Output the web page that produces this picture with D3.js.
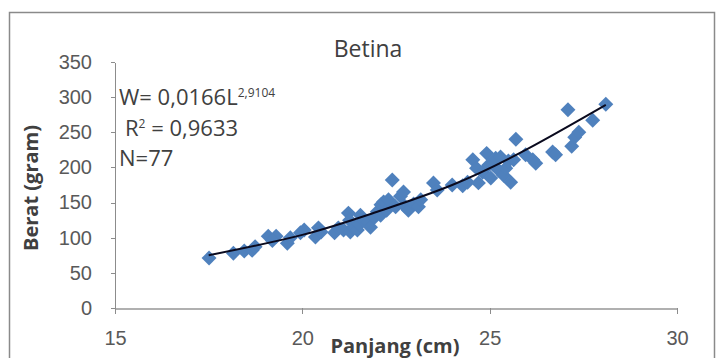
<!DOCTYPE html>
<meta charset="utf-8">
<style>
body {
  margin: 0;
  background: #fff;
}

svg {
  font-family: "Open Sans", sans-serif;
  display: block;
}

.axis path,
.axis line {
  stroke: #8c8c8c;
  shape-rendering: crispEdges;
}

.x.axis path {
  stroke: #b0b0b0;
  stroke-width: 2;
}

.axis text {
  font-size: 20px;
  fill: #595959;
}

.frame {
  fill: #fff;
  stroke: #8a8a8a;
  stroke-width: 1.5;
}

.point {
  fill: #4f81bd;
}

.trend {
  fill: none;
  stroke: #0a0a1e;
  stroke-width: 2;
}

.label {
  font-size: 20px;
  font-weight: bold;
  fill: #404040;
}

.note {
  font-size: 22px;
  fill: #404040;
}
</style>
<body>
<div id="chart"></div>
<script src="https://cdn.jsdelivr.net/npm/d3@7"></script>
<script>

// panjang (cm) and berat (gram) for each fish
var panjang = [17.51, 18.16, 18.45, 18.66, 18.74, 19.09, 19.30, 19.60, 19.68, 19.95,
               20.05, 20.35, 20.43, 20.50, 20.86, 20.96, 21.10, 21.23, 21.26, 21.28,
               21.36, 21.47, 21.52, 21.55, 21.63, 21.76, 21.82, 21.93, 22.00, 22.09,
               22.10, 22.17, 22.25, 22.30, 22.40, 22.49, 22.62, 22.70, 22.73, 22.83,
               22.97, 23.10, 23.16, 23.50, 23.60, 24.00, 24.28, 24.41, 24.55, 24.65,
               24.70, 24.81, 24.92, 24.97, 25.03, 25.08, 25.16, 25.24, 25.29, 25.37,
               25.43, 25.50, 25.56, 25.64, 25.70, 25.96, 26.15, 26.23, 26.68, 26.76,
               27.09, 27.19, 27.27, 27.38, 27.75, 28.10, 19.20];
var berat = [71, 78, 81, 82, 87, 102, 102, 92, 100, 107,
             111, 101, 114, 108, 107, 114, 111, 135, 125, 108,
             115, 111, 119, 132, 125, 122, 115, 129, 137, 132,
             147, 151, 139, 154, 182, 144, 159, 165, 145, 139,
             148, 144, 154, 178, 168, 175, 174, 179, 211, 199,
             178, 193, 220, 203, 185, 205, 213, 196, 215, 189,
             199, 209, 179, 211, 240, 218, 211, 206, 222, 218,
             282, 230, 243, 250, 267, 290, 96];

// power trendline as drawn in the chart
var trendPanjang = [17.5, 20, 22, 24, 26, 28.1];
var trendBerat = [75, 104, 137, 175, 226, 289];

var xTicks = [15, 20, 25, 30];
var yTicks = [0, 50, 100, 150, 200, 250, 300, 350];

var width = 716,
    height = 358;

var x = d3.scaleLinear()
    .domain([15, 30])
    .range([115, 677]);

var y = d3.scaleLinear()
    .domain([0, 350])
    .range([308, 62]);

var svg = d3.select("#chart").append("svg")
    .attr("width", width)
    .attr("height", height);

svg.append("rect")
    .attr("class", "frame")
    .attr("x", 9.5)
    .attr("y", 12.5)
    .attr("width", 705)
    .attr("height", 380);

svg.append("g")
    .attr("class", "y axis")
    .attr("transform", "translate(" + x.range()[0] + ",0)")
    .call(d3.axisLeft(y).tickValues(yTicks).tickSize(4).tickPadding(19).tickSizeOuter(0));

svg.append("g")
    .attr("class", "x axis")
    .attr("transform", "translate(0," + y.range()[0] + ")")
    .call(d3.axisBottom(x).tickValues(xTicks).tickSize(6).tickPadding(17).tickSizeOuter(0));

// points, drawn as Excel style diamonds
var diamond = d3.symbol().type(d3.symbolSquare).size(112);

svg.append("g")
  .selectAll("path")
    .data(d3.range(panjang.length))
  .enter().append("path")
    .attr("class", "point")
    .attr("d", diamond)
    .attr("transform", function(i) { return "translate(" + x(panjang[i]) + "," + y(berat[i]) + ") rotate(45)"; });

var line = d3.line()
    .x(function(i) { return x(trendPanjang[i]); })
    .y(function(i) { return y(trendBerat[i]); })
    .curve(d3.curveNatural);

svg.append("path")
    .attr("class", "trend")
    .attr("d", line(d3.range(trendPanjang.length)));

// title
svg.append("text")
    .attr("x", 368)
    .attr("y", 57)
    .attr("text-anchor", "middle")
    .style("font-size", "23px")
    .style("fill", "#404040")
    .text("Betina");

// equation box
var eq = svg.append("text")
    .attr("class", "note")
    .attr("x", 119)
    .attr("y", 105);
eq.append("tspan").text("W= 0,0166L");
eq.append("tspan")
    .attr("dy", -8)
    .style("font-size", "12px")
    .text("2,9104");

var r2 = svg.append("text")
    .attr("class", "note")
    .attr("x", 125)
    .attr("y", 136);
r2.append("tspan").text("R");
r2.append("tspan")
    .attr("dy", -8)
    .style("font-size", "12px")
    .text("2");
r2.append("tspan")
    .attr("dy", 8)
    .text(" = 0,9633");

svg.append("text")
    .attr("class", "note")
    .attr("x", 119)
    .attr("y", 166)
    .text("N=77");

// axis titles
svg.append("text")
    .attr("class", "label")
    .attr("x", 395)
    .attr("y", 353)
    .attr("text-anchor", "middle")
    .text("Panjang (cm)");

svg.append("text")
    .attr("class", "label")
    .attr("transform", "translate(38,188) rotate(-90)")
    .attr("text-anchor", "middle")
    .text("Berat (gram)");

</script>
</body>
</html>
